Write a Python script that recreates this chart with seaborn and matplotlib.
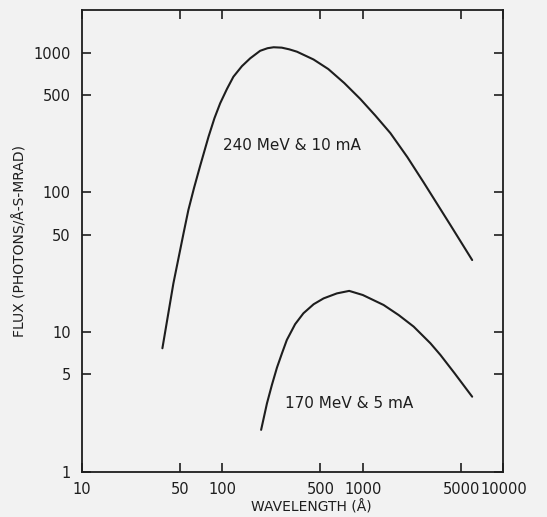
import numpy as np
import pandas as pd
import matplotlib
matplotlib.use("Agg")
import matplotlib.pyplot as plt
import seaborn as sns

# Data (wavelength in Å, flux)
wl_240 = [37.5, 44.9, 53.0, 57.4, 63, 69.6, 79.8, 88, 96.6, 108, 120, 138, 158, 186, 210, 232,
          265, 300, 340, 446, 568, 738, 960, 1227, 1570, 2075, 2710, 4198, 6000]
flux_240 = [7.7, 22.4, 51, 75, 108, 155, 250, 340, 434, 550, 672, 800, 910, 1030, 1075, 1092,
            1085, 1055, 1015, 893, 763, 606, 466, 355, 266, 179, 118, 58.6, 32.9]

wl_170 = [189, 208, 225.5, 245, 266, 288, 330, 378, 447, 526, 654, 800, 1000, 1406, 1800, 2300,
          3027, 3566, 4500, 6000]
flux_170 = [2.01, 3.11, 4.21, 5.6, 7.09, 8.83, 11.45, 13.7, 15.9, 17.5, 19.0, 19.8, 18.5, 15.7,
            13.3, 11.0, 8.36, 6.9, 5.1, 3.47]

series_names = ["240 MeV & 10 mA", "170 MeV & 5 mA"]

xticks = [10, 50, 100, 500, 1000, 5000, 10000]
xticklabels = ["10", "50", "100", "500", "1000", "5000", "10000"]
yticks = [1, 5, 10, 50, 100, 500, 1000]
yticklabels = ["1", "5", "10", "50", "100", "500", "1000"]

df = pd.concat([
    pd.DataFrame({"wl": wl_240, "flux": flux_240, "series": series_names[0]}),
    pd.DataFrame({"wl": wl_170, "flux": flux_170, "series": series_names[1]}),
], ignore_index=True)

sns.set_theme(style="ticks")
plt.rcParams["font.family"] = ["DejaVu Sans"]
bg = "#f2f2f2"
ink = "#1e1e1e"
fig = plt.figure(figsize=(5.47, 5.17), dpi=100, facecolor=bg)
ax = fig.add_axes([0.1494, 0.0865, 0.7708, 0.8932], facecolor=bg)

sns.lineplot(data=df, x="wl", y="flux", units="series", estimator=None,
             color=ink, linewidth=1.5, sort=False, ax=ax, legend=False)

ax.set_xscale("log")
ax.set_yscale("log")
ax.set_xlim(10, 10000)
ax.set_ylim(1, 2000)
ax.set_xticks(xticks)
ax.set_xticklabels(xticklabels)
ax.set_yticks(yticks)
ax.set_yticklabels(yticklabels)
ax.minorticks_off()
ax.tick_params(which="both", direction="in", length=6.5, width=1.2,
               top=True, right=True, labelsize=10.5, color=ink, labelcolor=ink)
ax.tick_params(axis="x", pad=7)
ax.tick_params(axis="y", pad=8)
for s in ax.spines.values():
    s.set_linewidth(1.3)
    s.set_color(ink)

ax.set_xlabel("WAVELENGTH (Å)", fontsize=10, color=ink)
ax.set_ylabel("FLUX (PHOTONS/Å-S-MRAD)", fontsize=10, color=ink)
ax.xaxis.set_label_coords(0.544, -0.060)
ax.yaxis.set_label_coords(-0.128, 0.5)

ax.text(101, 215, series_names[0], fontsize=11, va="center", ha="left", color=ink)
ax.text(280, 3.11, series_names[1], fontsize=11, va="center", ha="left", color=ink)

fig.savefig("out.png", dpi=100, facecolor=bg)
